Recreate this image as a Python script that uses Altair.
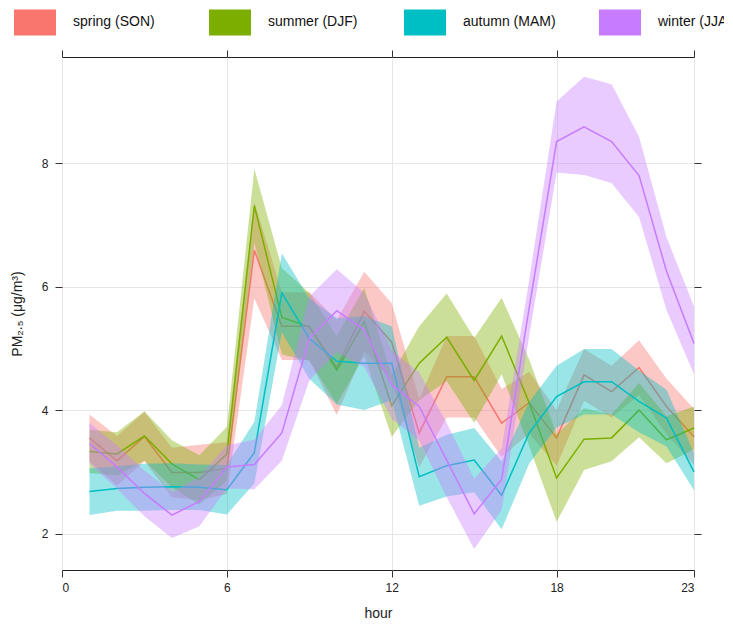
import altair as alt
import pandas as pd

hours = list(range(1, 24))
seasons = ["spring (SON)", "summer (DJF)", "autumn (MAM)", "winter (JJA)"]
colors = ["#F8766D", "#7CAE00", "#00BFC4", "#C77CFF"]

spring_mean = [3.55, 3.18, 3.57, 2.99, 2.99, 3.06, 6.59, 5.36, 5.36, 4.69, 5.60, 5.10,
               3.63, 4.54, 4.54, 3.79, 4.12, 3.55, 4.57, 4.30, 4.69, 4.06, 3.57]
spring_lower = [3.17, 2.78, 3.17, 2.59, 2.54, 2.64, 5.81, 4.81, 4.81, 3.92, 4.96, 4.47,
                3.08, 3.88, 3.88, 3.24, 3.62, 3.10, 4.15, 3.88, 4.25, 3.61, 3.12]
spring_upper = [3.93, 3.58, 3.97, 3.39, 3.44, 3.48, 7.37, 5.91, 5.91, 5.46, 6.24, 5.73,
                4.18, 5.20, 5.20, 4.34, 4.62, 4.00, 4.99, 4.72, 5.13, 4.51, 4.02]

summer_mean = [3.33, 3.29, 3.58, 3.13, 2.87, 3.29, 7.31, 5.50, 5.35, 4.65, 5.43, 4.07,
               4.76, 5.18, 4.48, 5.20, 4.12, 2.90, 3.53, 3.55, 4.00, 3.52, 3.71]
summer_lower = [2.98, 2.94, 3.18, 2.75, 2.47, 2.85, 6.71, 4.90, 4.80, 4.10, 4.88, 3.57,
                4.16, 4.47, 3.79, 4.58, 3.42, 2.19, 3.03, 3.17, 3.56, 3.14, 3.36]
summer_upper = [3.68, 3.64, 3.98, 3.51, 3.27, 3.73, 7.91, 6.30, 5.90, 5.20, 5.98, 4.57,
                5.36, 5.89, 5.17, 5.82, 4.82, 3.61, 4.03, 3.93, 4.44, 3.90, 4.06]

autumn_mean = [2.68, 2.73, 2.75, 2.76, 2.75, 2.71, 3.31, 5.90, 5.16, 4.79, 4.76, 4.76,
               2.92, 3.10, 3.19, 2.62, 3.63, 4.22, 4.46, 4.46, 4.14, 3.87, 3.00]
autumn_lower = [2.30, 2.37, 2.37, 2.38, 2.38, 2.31, 2.81, 5.26, 4.51, 4.09, 4.00, 4.16,
                2.45, 2.60, 2.67, 2.07, 3.13, 3.72, 3.93, 3.93, 3.64, 3.41, 2.70]
autumn_upper = [3.06, 3.09, 3.13, 3.14, 3.12, 3.11, 3.81, 6.54, 5.81, 5.49, 5.52, 5.36,
                3.39, 3.60, 3.71, 3.17, 4.13, 4.72, 4.99, 4.99, 4.64, 4.33, 3.30]

winter_mean = [3.46, 3.08, 2.65, 2.30, 2.52, 3.08, 3.12, 3.63, 5.16, 5.61, 5.30, 4.41,
               4.06, 3.19, 2.32, 2.88, 5.65, 8.35, 8.59, 8.35, 7.80, 6.25, 5.08]
winter_lower = [3.13, 2.73, 2.28, 1.93, 2.12, 2.73, 2.72, 3.18, 4.48, 4.94, 4.70, 3.86,
                3.51, 2.59, 1.75, 2.38, 5.20, 7.85, 7.81, 7.68, 7.13, 5.62, 4.58]
winter_upper = [3.79, 3.43, 3.02, 2.67, 2.92, 3.43, 3.52, 4.08, 5.84, 6.28, 5.90, 4.96,
                4.61, 3.79, 2.89, 3.38, 6.10, 9.00, 9.40, 9.28, 8.43, 6.80, 5.68]

x_ticks = [0, 6, 12, 18, 23]
y_ticks = [2, 4, 6, 8]

series = {
    seasons[0]: (spring_mean, spring_lower, spring_upper),
    seasons[1]: (summer_mean, summer_lower, summer_upper),
    seasons[2]: (autumn_mean, autumn_lower, autumn_upper),
    seasons[3]: (winter_mean, winter_lower, winter_upper),
}
rows = []
for s, (m, lo, up) in series.items():
    for h, a, b, c in zip(hours, m, lo, up):
        rows.append({"season": s, "hour": h, "mean": a, "lower": b, "upper": c})
df = pd.DataFrame(rows)

FONT = "Liberation Sans"
xscale = alt.Scale(domain=[0, 23], nice=False, zero=False)
yscale = alt.Scale(domain=[1.41, 9.72], nice=False, zero=False)
cscale = alt.Scale(domain=seasons, range=colors)

axis_common = dict(domain=False, tickColor="#333333", tickSize=7, tickWidth=1,
                   labelFont=FONT, labelFontSize=12, labelColor="#222222",
                   titleFont=FONT, titleFontSize=14, titleFontWeight="normal",
                   titleColor="#222222")

x_bottom = alt.Axis(orient="bottom", values=x_ticks, title="hour", grid=True,
                    gridColor="#e6e6e6", labelPadding=5, titlePadding=13,
                    **axis_common)
y_left = alt.Axis(orient="left", values=y_ticks, title="PM₂.₅ (μg/m³)", grid=True,
                  gridColor="#e6e6e6", labelPadding=7, titlePadding=17,
                  **axis_common)
x_top = alt.Axis(orient="top", values=x_ticks, title=None, labels=False, grid=False,
                 **axis_common)
y_right = alt.Axis(orient="right", values=y_ticks, title=None, labels=False, grid=False,
                   **axis_common)

legend = alt.Legend(title=None, orient="none", legendX=-48, legendY=-56,
                    direction="horizontal", columns=4,
                    symbolType="M-1,-0.62L1,-0.62L1,0.62L-1,0.62Z", symbolSize=1764,
                    symbolOpacity=1, symbolStrokeWidth=0,
                    labelFont=FONT, labelFontSize=14, labelColor="#111111",
                    labelOffset=17, columnPadding=43, gridAlign="all", labelLimit=300)

layers = []
for i, s in enumerate(seasons):
    base = alt.Chart(df).transform_filter(alt.datum.season == s)
    band = base.mark_area(opacity=0.4).encode(
        x=alt.X("hour:Q", scale=xscale, axis=x_bottom if i == 0 else None),
        y=alt.Y("lower:Q", scale=yscale, axis=y_left if i == 0 else None),
        y2="upper:Q",
        color=alt.Color("season:N", scale=cscale, legend=legend if i == 0 else None),
    )
    line = base.mark_line(strokeWidth=1.5).encode(
        x=alt.X("hour:Q", scale=xscale, axis=x_top if i == 0 else None),
        y=alt.Y("mean:Q", scale=yscale, axis=y_right if i == 0 else None),
        color=alt.Color("season:N", scale=cscale, legend=None),
    )
    layers += [band, line]

chart = alt.layer(*layers).resolve_axis(
    x="independent", y="independent"
).properties(
    width=632, height=513,
    padding={"left": 54, "top": 49, "right": 30, "bottom": 50},
    autosize=alt.AutoSizeParams(type="none"),
).configure_view(stroke="#222222", strokeWidth=1)

chart.save("out.html", embed_options={"renderer": "svg", "actions": False})
